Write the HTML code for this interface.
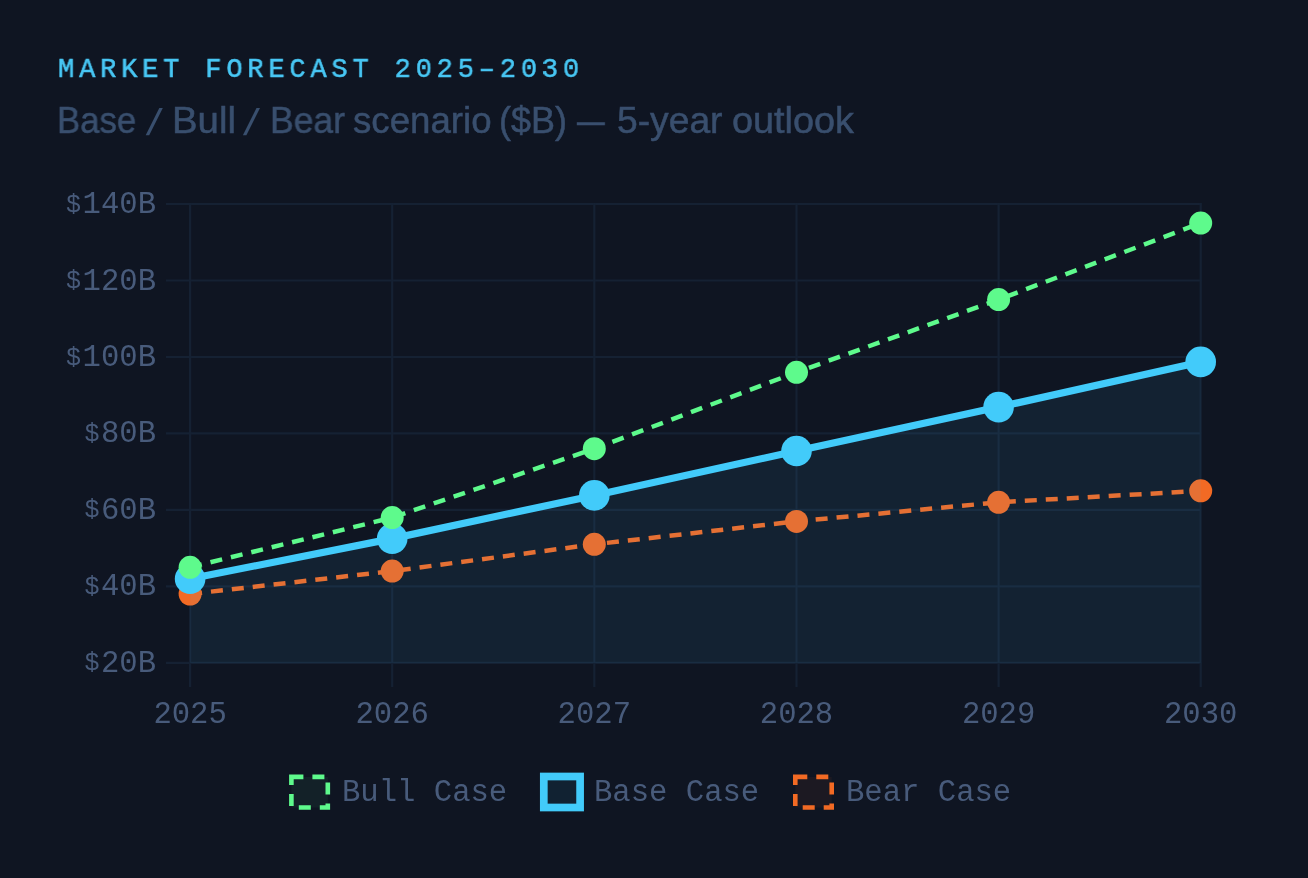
<!DOCTYPE html>
<html><head><meta charset="utf-8"><style>
html,body{margin:0;padding:0;background:#0f1522;width:1308px;height:878px;overflow:hidden}
.title,.sub,svg{will-change:transform}
.title{position:absolute;left:58px;top:52px;-webkit-text-stroke:0.55px #48c7f4;transform:scaleX(0.95);transform-origin:0 0;font-family:"Liberation Mono",monospace;font-size:28.5px;line-height:36px;letter-spacing:5.04px;color:#48c7f4;white-space:nowrap}
.sub{position:absolute;top:100px;-webkit-text-stroke:0.5px #394f6e;font-family:"Liberation Sans",sans-serif;font-size:36px;line-height:42px;color:#394f6e;white-space:nowrap;transform-origin:0 0}
svg{position:absolute;left:0;top:0}
.ax{font-family:"Liberation Mono",monospace;font-size:30.6px;-webkit-text-stroke:0.45px #485b7b;fill:#485b7b}
.lg{font-family:"Liberation Mono",monospace;font-size:30.6px;fill:#485b7b}
</style></head><body>
<div class="title">MARKET FORECAST 2025–2030</div>
<span class="sub" style="left:57.1px;transform:scaleX(0.9654);">Base</span><span class="sub" style="left:171.6px;transform:scaleX(1.0655);">Bull</span><span class="sub" style="left:269.6px;transform:scaleX(0.9863);">Bear</span><span class="sub" style="left:353.1px;transform:scaleX(1.0179);">scenario</span><span class="sub" style="left:499.4px;transform:scaleX(0.9938);">($B)</span><span class="sub" style="left:577.3px;transform:scaleX(0.7694);">—</span><span class="sub" style="left:617.0px;transform:scaleX(1.0337);">5-year</span><span class="sub" style="left:731.9px;transform:scaleX(1.0513);">outlook</span>
<svg width="1308" height="878" viewBox="0 0 1308 878">
<line x1="166" y1="204.0" x2="1201.7" y2="204.0" stroke="#152133" stroke-width="2.2"/>
<line x1="166" y1="280.5" x2="1201.7" y2="280.5" stroke="#152133" stroke-width="2.2"/>
<line x1="166" y1="357.0" x2="1201.7" y2="357.0" stroke="#152133" stroke-width="2.2"/>
<line x1="166" y1="433.4" x2="1201.7" y2="433.4" stroke="#152133" stroke-width="2.2"/>
<line x1="166" y1="509.9" x2="1201.7" y2="509.9" stroke="#152133" stroke-width="2.2"/>
<line x1="166" y1="586.4" x2="1201.7" y2="586.4" stroke="#152133" stroke-width="2.2"/>
<line x1="166" y1="662.9" x2="1201.7" y2="662.9" stroke="#152133" stroke-width="2.2"/>
<line x1="190.1" y1="203" x2="190.1" y2="687" stroke="#152133" stroke-width="2.2"/>
<line x1="392.2" y1="203" x2="392.2" y2="687" stroke="#152133" stroke-width="2.2"/>
<line x1="594.3" y1="203" x2="594.3" y2="687" stroke="#152133" stroke-width="2.2"/>
<line x1="796.5" y1="203" x2="796.5" y2="687" stroke="#152133" stroke-width="2.2"/>
<line x1="998.6" y1="203" x2="998.6" y2="687" stroke="#152133" stroke-width="2.2"/>
<line x1="1200.7" y1="203" x2="1200.7" y2="687" stroke="#152133" stroke-width="2.2"/>
<text x="156" y="213.0" text-anchor="end" class="ax"><tspan font-size="25" dy="-1.5">$</tspan><tspan dy="1.5" dx="1.5">140B</tspan></text>
<text x="156" y="289.5" text-anchor="end" class="ax"><tspan font-size="25" dy="-1.5">$</tspan><tspan dy="1.5" dx="1.5">120B</tspan></text>
<text x="156" y="366.0" text-anchor="end" class="ax"><tspan font-size="25" dy="-1.5">$</tspan><tspan dy="1.5" dx="1.5">100B</tspan></text>
<text x="156" y="442.4" text-anchor="end" class="ax"><tspan font-size="25" dy="-1.5">$</tspan><tspan dy="1.5" dx="1.5">80B</tspan></text>
<text x="156" y="518.9" text-anchor="end" class="ax"><tspan font-size="25" dy="-1.5">$</tspan><tspan dy="1.5" dx="1.5">60B</tspan></text>
<text x="156" y="595.4" text-anchor="end" class="ax"><tspan font-size="25" dy="-1.5">$</tspan><tspan dy="1.5" dx="1.5">40B</tspan></text>
<text x="156" y="671.9" text-anchor="end" class="ax"><tspan font-size="25" dy="-1.5">$</tspan><tspan dy="1.5" dx="1.5">20B</tspan></text>
<text x="190.1" y="723" text-anchor="middle" class="ax">2025</text>
<text x="392.2" y="723" text-anchor="middle" class="ax">2026</text>
<text x="594.3" y="723" text-anchor="middle" class="ax">2027</text>
<text x="796.5" y="723" text-anchor="middle" class="ax">2028</text>
<text x="998.6" y="723" text-anchor="middle" class="ax">2029</text>
<text x="1200.7" y="723" text-anchor="middle" class="ax">2030</text>
<polyline points="190.1,594.0 392.2,571.1 594.3,544.3 796.5,521.4 998.6,502.3 1200.7,490.8" fill="none" stroke="#f26a24" stroke-width="4.5" stroke-dasharray="12 9"/>
<circle cx="190.1" cy="594.0" r="11.5" fill="#f26a24"/>
<circle cx="392.2" cy="571.1" r="11.5" fill="#f26a24"/>
<circle cx="594.3" cy="544.3" r="11.5" fill="#f26a24"/>
<circle cx="796.5" cy="521.4" r="11.5" fill="#f26a24"/>
<circle cx="998.6" cy="502.3" r="11.5" fill="#f26a24"/>
<circle cx="1200.7" cy="490.8" r="11.5" fill="#f26a24"/>
<polygon points="190.1,578.8 392.2,538.6 594.3,495.4 796.5,451.0 998.6,407.1 1200.7,361.9 1200.7,662.9 190.1,662.9" fill="rgba(77,196,246,0.08)"/>
<polyline points="190.1,578.8 392.2,538.6 594.3,495.4 796.5,451.0 998.6,407.1 1200.7,361.9" fill="none" stroke="#42cbfa" stroke-width="7.2" stroke-linejoin="round"/>
<circle cx="190.1" cy="578.8" r="15.3" fill="#42cbfa"/>
<circle cx="392.2" cy="538.6" r="15.3" fill="#42cbfa"/>
<circle cx="594.3" cy="495.4" r="15.3" fill="#42cbfa"/>
<circle cx="796.5" cy="451.0" r="15.3" fill="#42cbfa"/>
<circle cx="998.6" cy="407.1" r="15.3" fill="#42cbfa"/>
<circle cx="1200.7" cy="361.9" r="15.3" fill="#42cbfa"/>
<polyline points="190.1,567.3 392.2,517.6 594.3,448.7 796.5,372.3 998.6,299.6 1200.7,223.1" fill="none" stroke="#5efa8c" stroke-width="4.5" stroke-dasharray="12 9"/>
<circle cx="190.1" cy="567.3" r="11.5" fill="#5efa8c"/>
<circle cx="392.2" cy="517.6" r="11.5" fill="#5efa8c"/>
<circle cx="594.3" cy="448.7" r="11.5" fill="#5efa8c"/>
<circle cx="796.5" cy="372.3" r="11.5" fill="#5efa8c"/>
<circle cx="998.6" cy="299.6" r="11.5" fill="#5efa8c"/>
<circle cx="1200.7" cy="223.1" r="11.5" fill="#5efa8c"/>
<polygon points="145.7,135.3 149.2,135.3 162.8,108 159.3,108" fill="#394f6e"/>
<polygon points="242.9,135.3 246.4,135.3 260.0,108 256.5,108" fill="#394f6e"/>
<rect x="291.4" y="776.9" width="36.4" height="30.6" fill="rgba(89,245,138,0.06)" stroke="#5efa8c" stroke-width="4.6" stroke-dasharray="12 9"/>
<rect x="543.8" y="776.5" width="36.3" height="31.0" fill="rgba(56,189,248,0.08)" stroke="#42cbfa" stroke-width="7.7"/>
<rect x="795.3" y="776.9" width="36.4" height="30.6" fill="rgba(242,109,35,0.06)" stroke="#f26a24" stroke-width="4.6" stroke-dasharray="12 9"/>
<text x="342" y="801" class="lg">Bull Case</text>
<text x="594" y="801" class="lg">Base Case</text>
<text x="846" y="801" class="lg">Bear Case</text>
</svg>
</body></html>
